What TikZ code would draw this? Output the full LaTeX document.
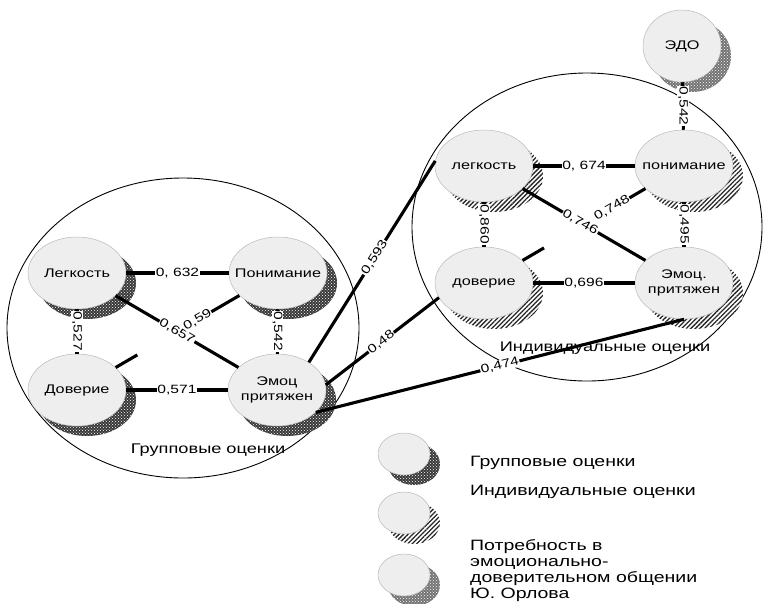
\documentclass[tikz,border=0pt]{standalone}
\usepackage{fontspec}
\setmainfont{Liberation Sans}[FakeStretch=1.3]
\usetikzlibrary{shapes.geometric,patterns,patterns.meta,calc}
\begin{document}
\begin{tikzpicture}[x=1pt,y=-1pt,
  font=\fontsize{12.5}{14.5}\selectfont,
  conn/.style={line width=3.1pt},
  lbl/.style={fill=white,inner sep=0.6pt,font=\fontsize{12}{13}\selectfont},
  big/.style={draw=black,line width=0.9pt},
  nd/.style={ellipse,inner sep=0pt,minimum width=98pt,minimum height=72pt,fill=gray!13,draw=gray!55,line width=0.5pt},
  edon/.style={ellipse,inner sep=0pt,minimum width=78pt,minimum height=72pt,fill=gray!13,draw=gray!55,line width=0.5pt},
  lg/.style={ellipse,inner sep=0pt,minimum width=52pt,minimum height=42pt,fill=gray!13,draw=gray!55,line width=0.5pt},
  gshadow/.style={preaction={fill=black!78,transform canvas={shift={(10pt,-10pt)}}},
                  preaction={pattern=crosshatch dots,pattern color=white,transform canvas={shift={(10pt,-10pt)}}}},
  ishadow/.style={preaction={fill=white,transform canvas={shift={(10pt,-10pt)}}},
                  preaction={pattern={Lines[angle=45,distance=3.2pt,line width=1.3pt]},pattern color=black!85,transform canvas={shift={(10pt,-10pt)}}}},
  eshadow/.style={preaction={fill=black!55,transform canvas={shift={(10pt,-10pt)}}},
                  preaction={pattern=crosshatch dots,pattern color=white,transform canvas={shift={(10pt,-10pt)}}}},
  captext/.style={font=\fontsize{14}{16}\selectfont},
  leg/.style={font=\fontsize{15}{16}\selectfont,inner sep=0pt}
]
\fill[white] (0,0) rectangle (765,603);
\useasboundingbox (0,0) rectangle (765,603);

% group circles
\draw[big] (183,328) ellipse [x radius=176, y radius=150];
\draw[big] (587,227) ellipse [x radius=175, y radius=154];

% left cluster (group ratings)
\node[nd,gshadow,label={center:Легкость}] (gL) at (77,273) {};
\node[nd,gshadow,label={center:Понимание}] (gP) at (278,273) {};
\node[nd,gshadow,label={center:Доверие}] (gD) at (77,390) {};
\node[nd,gshadow,label={[align=center]center:Эмоц\\притяжен}] (gE) at (277,390) {};

% right cluster (individual ratings)
\node[nd,ishadow,label={center:легкость}] (rL) at (484,166) {};
\node[nd,ishadow,label={center:понимание}] (rP) at (684,166) {};
\node[nd,ishadow,label={center:доверие}] (rD) at (484,283) {};
\node[nd,ishadow,label={[align=center]center:Эмоц.\\притяжен}] (rE) at (684,283) {};

% EDO
\node[edon,eshadow,label={center:ЭДО}] (edo) at (682,46) {};

% left connectors
\draw[conn] (gL) -- (gP) node[lbl,midway]{0, 632};
\draw[conn] (gL) -- (gD) node[lbl,midway,rotate=-90]{0,527};
\draw[conn] (gL) -- (gE) node[lbl,pos=0.5,sloped]{0,657};
\draw[conn] (gD) -- ($(gD)!0.3!(gP)$);
\draw[conn] ($(gD)!0.6!(gP)$) -- (gP) node[lbl,pos=0,sloped]{0,59};
\draw[conn] (gP) -- (gE) node[lbl,midway,rotate=-90]{0,542};
\draw[conn] (gD) -- (gE) node[lbl,midway]{0,571};

% cross connectors
\draw[conn] (gE.41) -- (rL.174) node[lbl,pos=0.52,sloped]{0,593};
\draw[conn] (gE.6) -- (rD.198) node[lbl,pos=0.49,sloped]{0,48};
\draw[conn] (gE.-30) -- (rE.-90) node[lbl,pos=0.5,sloped]{0,474};

% right connectors
\draw[conn] (rL) -- (rP) node[lbl,midway]{0, 674};
\draw[conn] (rL) -- (rD) node[lbl,midway,rotate=-90]{0,860};
\draw[conn] (rL) -- (rE) node[lbl,pos=0.47,sloped]{0,746};
\draw[conn] (rD) -- ($(rD)!0.3!(rP)$);
\draw[conn] ($(rD)!0.64!(rP)$) -- (rP) node[lbl,pos=0,sloped]{0,748};
\draw[conn] (rP) -- (rE) node[lbl,midway,rotate=-90]{0,495};
\draw[conn] (rD) -- (rE) node[lbl,midway]{0,696};
\draw[conn] (edo) -- (rP) node[lbl,midway,rotate=-90]{0,542};

% captions
\node[captext] (tg) at (208,450) {Групповые оценки};
\node[captext] (ti) at (605,348) {Индивидуальные оценки};

% legend
\node[lg,gshadow] (k1) at (404,454) {};
\node[lg,ishadow] (k2) at (404,513) {};
\node[lg,eshadow] (k3) at (404,575) {};
\node[leg,anchor=west] (t1) at (470,463) {Групповые оценки};
\node[leg,anchor=west] (t2) at (470,492) {Индивидуальные оценки};
\node[leg,anchor=north west,align=left] (t3) at (470,539) {Потребность в\\эмоционально-\\доверительном общении\\Ю. Орлова};
\end{tikzpicture}
\end{document}
